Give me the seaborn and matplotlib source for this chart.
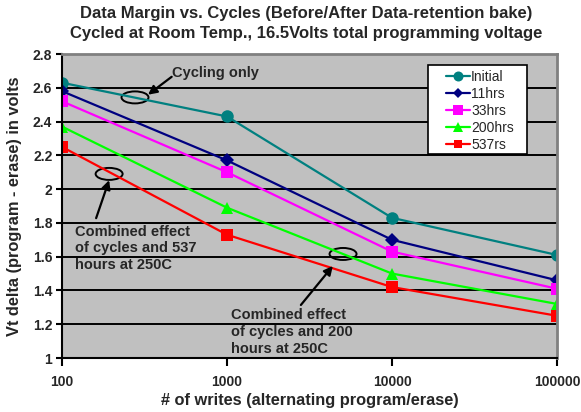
import numpy as np
import pandas as pd
import matplotlib
matplotlib.use("Agg")
import matplotlib.pyplot as plt
import matplotlib.transforms as mtransforms
from matplotlib.patches import Ellipse, Rectangle
from matplotlib.ticker import NullLocator
import seaborn as sns

# values
writes = [100, 1000, 10000, 100000]
initial = [2.63, 2.43, 1.83, 1.61]
hrs_11 = [2.58, 2.17, 1.70, 1.46]
hrs_33 = [2.52, 2.10, 1.63, 1.41]
hrs_200 = [2.37, 1.89, 1.50, 1.32]
hrs_537 = [2.25, 1.73, 1.42, 1.25]

series_names = ["Initial", "11hrs", "33hrs", "200hrs", "537rs"]
series_values = [initial, hrs_11, hrs_33, hrs_200, hrs_537]
colors = ["#008080", "#000080", "#FF00FF", "#00FF00", "#FF0000"]
marker_list = ["o", "D", "s", "^", "s"]
marker_sizes = [9, 7, 8.5, 9, 8]

x_tick_labels = ["100", "1000", "10000", "100000"]
y_ticks = [1, 1.2, 1.4, 1.6, 1.8, 2, 2.2, 2.4, 2.6, 2.8]
y_tick_labels = ["1", "1.2", "1.4", "1.6", "1.8", "2", "2.2", "2.4", "2.6", "2.8"]

title = ("Data Margin vs. Cycles (Before/After Data-retention bake)\n"
         "Cycled at Room Temp., 16.5Volts total programming voltage")

rows = []
for name, vals in zip(series_names, series_values):
    for w, v in zip(writes, vals):
        rows.append({"writes": w, "vt": v, "series": name})
df = pd.DataFrame(rows)

sns.set_style("ticks")
plt.rcParams["font.family"] = ["Liberation Sans", "DejaVu Sans"]

fig = plt.figure(figsize=(5.81, 4.12), dpi=100)
ax = fig.add_axes([62 / 581, 1 - 358 / 412, 495 / 581, 304 / 412])
ax.set_facecolor("#C0C0C0")
ax.set_xscale("log")

sns.lineplot(data=df, x="writes", y="vt", hue="series", style="series",
             hue_order=series_names, style_order=series_names,
             palette=dict(zip(series_names, colors)),
             markers=dict(zip(series_names, marker_list)), dashes=False,
             linewidth=1.6, markeredgewidth=0, errorbar=None,
             legend=False, ax=ax)

for line, ms in zip(ax.lines, marker_sizes):
    line.set_markersize(ms)

ax.set_xlim(100, 100000)
ax.set_ylim(1, 2.8)
ax.set_xticks(writes)
ax.set_xticklabels(x_tick_labels, fontweight="bold", fontsize=10)
ax.xaxis.set_minor_locator(NullLocator())
ax.set_yticks(y_ticks)
ax.set_yticklabels(y_tick_labels, fontweight="bold", fontsize=10)
ax.tick_params(axis="x", direction="out", length=6, width=1.5, pad=6, color="black")
ax.tick_params(axis="y", direction="out", length=4, width=1.5, pad=3, color="black")
ax.grid(axis="y", color="black", linewidth=1.4)
ax.set_axisbelow(True)

for side in ["left", "bottom"]:
    ax.spines[side].set_color("black")
    ax.spines[side].set_linewidth(1.5)
for side in ["top", "right"]:
    ax.spines[side].set_visible(True)
    ax.spines[side].set_color("#808080")
    ax.spines[side].set_linewidth(2)

ax.set_xlabel("# of writes (alternating program/erase)", fontweight="bold", fontsize=11.8, labelpad=3)
ax.set_ylabel("Vt delta (program - erase) in volts", fontweight="bold", fontsize=11.8, labelpad=8)
fig.text(0.527, 1 - 6 / 412, title, ha="center", va="top", fontweight="bold",
         fontsize=12, linespacing=1.45)

# legend box drawn separately (Excel style, wide side padding)
ax.add_patch(Rectangle((0.7394, 0.671), 0.2, 0.293, transform=ax.transAxes,
                       facecolor="white", edgecolor="black", linewidth=1.2,
                       zorder=4.9, clip_on=False))
leg = ax.legend(ax.lines, series_names, loc="upper left", bbox_to_anchor=(0.776, 0.947),
                borderaxespad=0, borderpad=0, frameon=False, fontsize=10,
                handlelength=1.75, handletextpad=0.05, labelspacing=0.21,
                markerscale=0.8)

# annotations: ellipses (pixel size) around points on the lines
ellipse_centers = [(277, 2.543), (193, 2.09), (5050, 1.616)]
for ex, ey in ellipse_centers:
    e = Ellipse((0, 0), 27, 12, fill=False, edgecolor="black", linewidth=1.4,
                transform=mtransforms.ScaledTranslation(ex, ey, ax.transData))
    ax.add_artist(e)

arrow_props = dict(arrowstyle="-|>", color="black", lw=1.6, mutation_scale=13,
                   shrinkA=0, shrinkB=0)
ax.annotate("", xy=(332, 2.559), xytext=(462, 2.665), arrowprops=arrow_props)
ax.annotate("", xy=(193, 2.053), xytext=(161, 1.828), arrowprops=arrow_props)
ax.annotate("", xy=(4380, 1.545), xytext=(2804, 1.314), arrowprops=arrow_props)

ax.text(464, 2.686, "Cycling only", ha="left", va="center", fontweight="bold", fontsize=10.5)
ax.text(120, 1.79, "Combined effect\nof cycles and 537\nhours at 250C", ha="left", va="top",
        fontweight="bold", fontsize=10.5, linespacing=1.25)
ax.text(1058, 1.295, "Combined effect\nof cycles and 200\nhours at 250C", ha="left", va="top",
        fontweight="bold", fontsize=10.5, linespacing=1.25)

fig.savefig("out.png", dpi=100)
